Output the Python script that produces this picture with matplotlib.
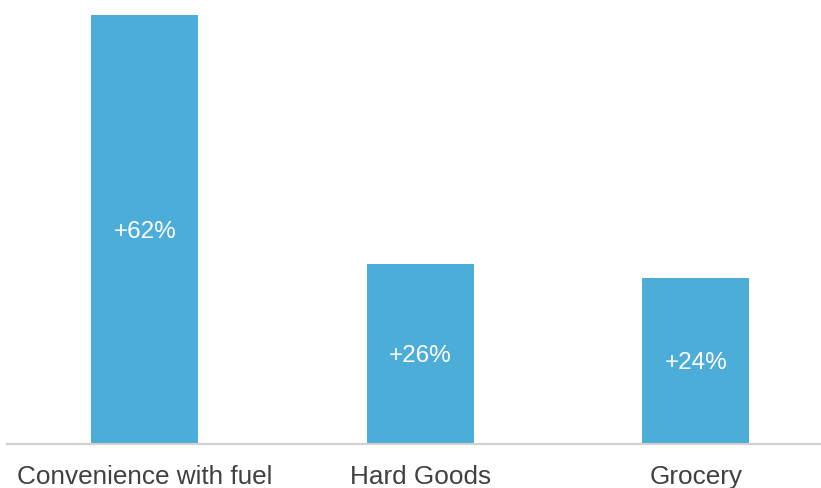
import matplotlib
matplotlib.use("Agg")
import matplotlib.pyplot as plt

categories = ["Convenience with fuel", "Hard Goods", "Grocery"]
values = [62, 26, 24]
labels = ["+62%", "+26%", "+24%"]

plt.rcParams["font.family"] = ["Liberation Sans", "DejaVu Sans"]

W, H = 821, 488
fig = plt.figure(figsize=(W / 100, H / 100), dpi=100)
ax = fig.add_axes([7 / W, 44 / H, (W - 7) / W, (H - 44) / H])

x = list(range(len(categories)))
ax.bar(x, values, width=0.388, color="#4DADD9", zorder=2)

for xi, v, lab in zip(x, values, labels):
    ax.text(xi, v / 2 - 0.3, lab, ha="center", va="center", color="white", fontsize=17.5)

ax.set_xlim(-0.5, (W - 7) / 275.5 - 0.5)
ax.set_ylim(0, 62 * 444 / 429)

for s in ["top", "right", "left"]:
    ax.spines[s].set_visible(False)
ax.spines["bottom"].set_color("#D0D0D0")
ax.spines["bottom"].set_linewidth(1.5)
ax.set_yticks([])
ax.set_xticks(x)
ax.set_xticklabels(categories, fontsize=18.8, color="#404040")
ax.tick_params(axis="x", length=0, pad=15)

fig.savefig("out.png", dpi=100)
